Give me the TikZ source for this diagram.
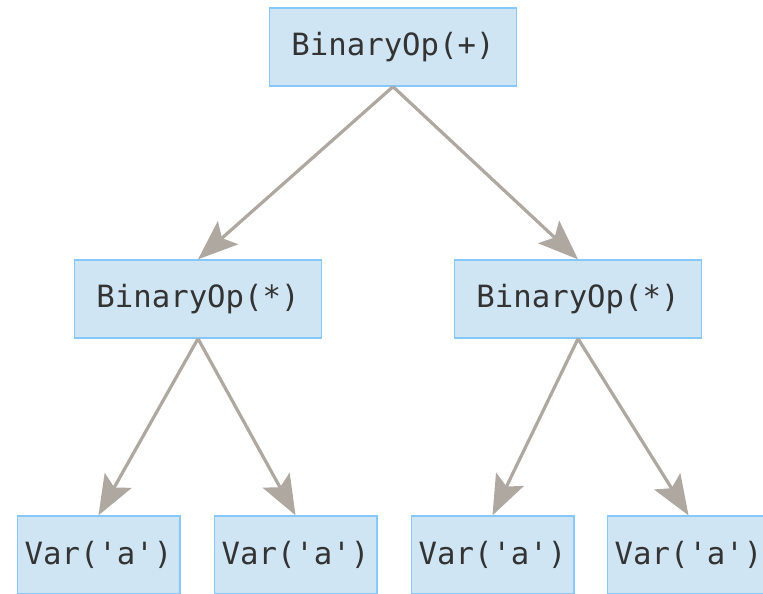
\documentclass[tikz,border=0pt]{standalone}
\usepackage{fontspec}
\setmonofont{DejaVu Sans Mono}
\usetikzlibrary{arrows.meta, positioning}
\definecolor{boxFill}{RGB}{207,229,243}
\definecolor{boxLine}{RGB}{135,200,250}
\definecolor{edgeGray}{RGB}{174,168,160}
\definecolor{darkText}{RGB}{51,51,51}
\tikzset{
    opbox/.style={
        rectangle,
        draw=boxLine,
        line width=1pt,
        fill=boxFill,
        inner sep=0pt,
        minimum width=185pt,
        minimum height=58.5pt,
        text=darkText,
        font=\ttfamily\fontsize{23}{28}\selectfont
    },
    leafbox/.style={
        opbox,
        minimum width=122pt
    },
    treearrow/.style={-{Stealth[length=30pt, width=23pt, inset=6pt]}, line width=2.4pt, draw=edgeGray}
}
\begin{document}
\begin{tikzpicture}[x=0.75pt, y=-0.75pt]
    \clip (0,0) rectangle (763,593);
    \useasboundingbox (0,0) rectangle (763,593);
    % expression tree
    \node[opbox] (plus) at (393,47) {BinaryOp(+)};
    \node[opbox] (multL) at (198,299) {BinaryOp(*)};
    \node[opbox] (multR) at (578,299) {BinaryOp(*)};
    \node[leafbox] (varA) at (98.5,555) {Var('a')};
    \node[leafbox] (varB) at (295.5,555) {Var('a')};
    \node[leafbox] (varC) at (492.5,555) {Var('a')};
    \node[leafbox] (varD) at (688.5,555) {Var('a')};
    \draw[treearrow] (plus.south) -- (multL.north);
    \draw[treearrow] (plus.south) -- (multR.north);
    \draw[treearrow] (multL.south) -- (varA.north);
    \draw[treearrow] (multL.south) -- (varB.north);
    \draw[treearrow] (multR.south) -- (varC.north);
    \draw[treearrow] (multR.south) -- (varD.north);
\end{tikzpicture}
\end{document}
